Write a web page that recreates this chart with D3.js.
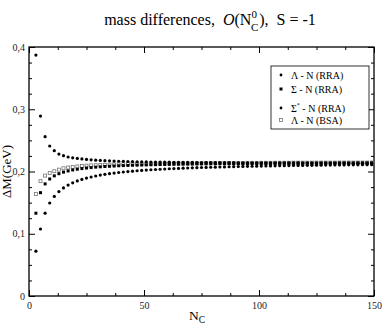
<!DOCTYPE html>
<html>
<head>
<meta charset="utf-8">
<script src="https://cdn.jsdelivr.net/npm/d3@7"></script>
<style>
  body { margin: 0; background: #fff; }
  svg { display: block; font-family: "Liberation Serif", "DejaVu Serif", serif; }
</style>
</head>
<body>
<div id="chart"></div>
<script>
// N_C values (odd, 3..149)
const nc = d3.range(3, 150, 2);

// Σ* - N (RRA), top branch
const sigmaStarN = [0.387, 0.289, 0.256, 0.241, 0.2335, 0.228, 0.2254, 0.2233, 0.222, 0.221,
  0.2202, 0.2194, 0.2188, 0.2182, 0.2178, 0.2174, 0.2171, 0.2168, 0.2165, 0.2163,
  0.2161, 0.2159, 0.2157, 0.2156, 0.2154, 0.2153, 0.2152, 0.2151, 0.2150, 0.2149,
  0.2148, 0.2147, 0.2146, 0.2146, 0.2145, 0.2144, 0.2144, 0.2143, 0.2143, 0.2142,
  0.2142, 0.2141, 0.2141, 0.2141, 0.2140, 0.2140, 0.2140, 0.2139, 0.2139, 0.2139,
  0.2138, 0.2138, 0.2138, 0.2138, 0.2137, 0.2137, 0.2137, 0.2137, 0.2136, 0.2136,
  0.2136, 0.2136, 0.2136, 0.2135, 0.2135, 0.2135, 0.2135, 0.2135, 0.2135, 0.2134,
  0.2134, 0.2134, 0.2134, 0.2134];

// Σ - N (RRA)
const sigmaN = [0.1330, 0.1660, 0.1801, 0.1880, 0.1930, 0.1965, 0.1990, 0.2009, 0.2025, 0.2037,
  0.2047, 0.2056, 0.2063, 0.2070, 0.2075, 0.2080, 0.2084, 0.2088, 0.2092, 0.2095,
  0.2097, 0.2100, 0.2102, 0.2104, 0.2106, 0.2108, 0.2110, 0.2112, 0.2113, 0.2114,
  0.2116, 0.2117, 0.2118, 0.2119, 0.2120, 0.2121, 0.2122, 0.2123, 0.2124, 0.2124,
  0.2125, 0.2126, 0.2127, 0.2127, 0.2128, 0.2128, 0.2129, 0.2129, 0.2130, 0.2130,
  0.2131, 0.2131, 0.2132, 0.2132, 0.2133, 0.2133, 0.2133, 0.2134, 0.2134, 0.2135,
  0.2135, 0.2135, 0.2136, 0.2136, 0.2136, 0.2136, 0.2137, 0.2137, 0.2137, 0.2137,
  0.2138, 0.2138, 0.2138, 0.2138];

// Λ - N (RRA), lowest branch
const lambdaN = [0.0720, 0.1076, 0.1331, 0.1494, 0.1600, 0.1678, 0.1736, 0.1782, 0.1818, 0.1848,
  0.1873, 0.1894, 0.1912, 0.1928, 0.1942, 0.1954, 0.1965, 0.1975, 0.1984, 0.1992,
  0.1999, 0.2006, 0.2012, 0.2018, 0.2023, 0.2028, 0.2032, 0.2036, 0.2040, 0.2044,
  0.2047, 0.2050, 0.2053, 0.2056, 0.2059, 0.2061, 0.2064, 0.2066, 0.2068, 0.2070,
  0.2072, 0.2074, 0.2076, 0.2078, 0.2080, 0.2081, 0.2083, 0.2084, 0.2086, 0.2087,
  0.2089, 0.2090, 0.2091, 0.2093, 0.2094, 0.2095, 0.2096, 0.2097, 0.2098, 0.2099,
  0.2100, 0.2101, 0.2102, 0.2103, 0.2104, 0.2105, 0.2105, 0.2106, 0.2107, 0.2108,
  0.2108, 0.2109, 0.2110, 0.2110];

// Λ - N (BSA), open squares
const lambdaNBsa = [0.1640, 0.1845, 0.1934, 0.1975, 0.2005, 0.2030, 0.2052, 0.2064, 0.2073, 0.2081,
  0.2088, 0.2093, 0.2098, 0.2102, 0.2105, 0.2108, 0.2111, 0.2113, 0.2115, 0.2117,
  0.2119, 0.2121, 0.2122, 0.2123, 0.2125, 0.2126, 0.2127, 0.2128, 0.2129, 0.2130,
  0.2130, 0.2131, 0.2132, 0.2133, 0.2133, 0.2134, 0.2134, 0.2135, 0.2135, 0.2136,
  0.2136, 0.2137, 0.2137, 0.2138, 0.2138, 0.2138, 0.2139, 0.2139, 0.2139, 0.2140,
  0.2140, 0.2140, 0.2141, 0.2141, 0.2141, 0.2141, 0.2142, 0.2142, 0.2142, 0.2142,
  0.2142, 0.2143, 0.2143, 0.2143, 0.2143, 0.2143, 0.2144, 0.2144, 0.2144, 0.2144,
  0.2144, 0.2144, 0.2144, 0.2145];

const xMajor = [0, 50, 100, 150];
const yMajor = [0, 0.1, 0.2, 0.3, 0.4];
const yLabels = ["0", "0,1", "0,2", "0,3", "0,4"];
const legendLabels = ["Λ - N (RRA)", "Σ - N (RRA)", "Σ* - N (RRA)", "Λ - N (BSA)"];

const W = 382, H = 327;
const margin = { top: 47, right: 8, bottom: 31, left: 29 };
const width = W - margin.left - margin.right;
const height = H - margin.top - margin.bottom;

const svg = d3.select("#chart").append("svg")
  .attr("width", W).attr("height", H);

// title
const title = svg.append("text")
  .attr("x", 210).attr("y", 25)
  .attr("text-anchor", "middle")
  .attr("font-size", 16)
  .style("white-space", "pre");
title.append("tspan").text("mass differences,  ");
title.append("tspan").attr("font-style", "italic").text("O");
title.append("tspan").text("(N");
title.append("tspan").attr("font-size", 11).attr("dy", -7).text("0");
title.append("tspan").attr("font-size", 11).attr("dx", -6).attr("dy", 13).text("C");
title.append("tspan").attr("dx", 1).attr("dy", -6).text("),  S = -1");

const g = svg.append("g").attr("transform", `translate(${margin.left},${margin.top})`);

const x = d3.scaleLinear().domain([0, 150]).range([0, width]);
const y = d3.scaleLinear().domain([0, 0.4]).range([height, 0]);

const xMinor = d3.range(0, 150.1, 12.5).filter(v => !xMajor.includes(v));
const yMinor = d3.range(0, 0.401, 0.025).filter(v => !yMajor.some(m => Math.abs(m - v) < 1e-6));

function styleAxis(sel) {
  sel.select(".domain").remove();
  sel.selectAll("line").attr("stroke", "#000").attr("stroke-width", 1);
  sel.selectAll("text").attr("font-family", "Liberation Serif").attr("font-size", 10).attr("fill", "#222");
}

// bottom
g.append("g").attr("transform", `translate(0,${height})`)
  .call(d3.axisBottom(x).tickValues(xMajor).tickSize(-6).tickPadding(6).tickFormat(d3.format("d")))
  .call(styleAxis);
g.append("g").attr("transform", `translate(0,${height})`)
  .call(d3.axisBottom(x).tickValues(xMinor).tickSize(-3).tickFormat(""))
  .call(styleAxis);
// top
g.append("g")
  .call(d3.axisTop(x).tickValues(xMajor).tickSize(-6).tickFormat(""))
  .call(styleAxis);
g.append("g")
  .call(d3.axisTop(x).tickValues(xMinor).tickSize(-3).tickFormat(""))
  .call(styleAxis);
// left
g.append("g")
  .call(d3.axisLeft(y).tickValues(yMajor).tickSize(-6).tickPadding(4).tickFormat((d, i) => yLabels[i]))
  .call(styleAxis);
g.append("g")
  .call(d3.axisLeft(y).tickValues(yMinor).tickSize(-3).tickFormat(""))
  .call(styleAxis);
// right
g.append("g").attr("transform", `translate(${width},0)`)
  .call(d3.axisRight(y).tickValues(yMajor).tickSize(-6).tickFormat(""))
  .call(styleAxis);
g.append("g").attr("transform", `translate(${width},0)`)
  .call(d3.axisRight(y).tickValues(yMinor).tickSize(-3).tickFormat(""))
  .call(styleAxis);

// frame
g.append("rect").attr("width", width).attr("height", height)
  .attr("fill", "none").attr("stroke", "#000").attr("stroke-width", 1.3);

// axis titles
const xt = svg.append("text").attr("x", 197).attr("y", 320)
  .attr("text-anchor", "middle").attr("font-size", 13.5);
xt.append("tspan").text("N");
xt.append("tspan").attr("font-size", 9.5).attr("dy", 3).text("C");

svg.append("text")
  .attr("transform", `translate(11,${margin.top + height / 2}) rotate(-90)`)
  .attr("text-anchor", "middle").attr("font-size", 13)
  .text("ΔM(GeV)");

// data
const plot = g.append("g");
const pts = arr => arr.map((v, i) => ({ n: nc[i], v }));

plot.selectAll(".bsa").data(pts(lambdaNBsa)).enter().append("rect")
  .attr("class", "bsa")
  .attr("x", d => x(d.n) - 1.5).attr("y", d => y(d.v) - 1.5)
  .attr("width", 3).attr("height", 3)
  .attr("fill", "#fff").attr("stroke", "#777").attr("stroke-width", 0.8);

plot.selectAll(".sig").data(pts(sigmaN)).enter().append("rect")
  .attr("class", "sig")
  .attr("x", d => x(d.n) - 1.5).attr("y", d => y(d.v) - 1.5)
  .attr("width", 3).attr("height", 3).attr("fill", "#000");

plot.selectAll(".lam").data(pts(lambdaN)).enter().append("circle")
  .attr("class", "lam")
  .attr("cx", d => x(d.n)).attr("cy", d => y(d.v)).attr("r", 1.6).attr("fill", "#000");

plot.selectAll(".sst").data(pts(sigmaStarN)).enter().append("circle")
  .attr("class", "sst")
  .attr("cx", d => x(d.n)).attr("cy", d => y(d.v)).attr("r", 1.6).attr("fill", "#000");

// legend
const lg = svg.append("g").attr("transform", "translate(271,66)");
lg.append("rect").attr("width", 98).attr("height", 63)
  .attr("fill", "#fff").attr("stroke", "#000").attr("stroke-width", 0.8);
const rowsY = [9, 23, 42, 54];
legendLabels.forEach((lab, i) => {
  const cy = rowsY[i];
  if (i === 1) {
    lg.append("rect").attr("x", 8.5).attr("y", cy - 1.5).attr("width", 3).attr("height", 3).attr("fill", "#000");
  } else if (i === 3) {
    lg.append("rect").attr("x", 8.5).attr("y", cy - 1.5).attr("width", 3).attr("height", 3)
      .attr("fill", "#fff").attr("stroke", "#777").attr("stroke-width", 0.8);
  } else {
    lg.append("circle").attr("cx", 10).attr("cy", cy).attr("r", 1.4).attr("fill", "#000");
  }
  const t = lg.append("text").attr("x", 20).attr("y", cy + 3.5).attr("font-size", 10);
  if (i === 2) {
    t.append("tspan").text("Σ");
    t.append("tspan").attr("font-size", 6).attr("dy", -5).text("*");
    t.append("tspan").attr("dy", 5).text(" - N (RRA)");
  } else {
    t.text(lab);
  }
});
</script>
</body>
</html>
